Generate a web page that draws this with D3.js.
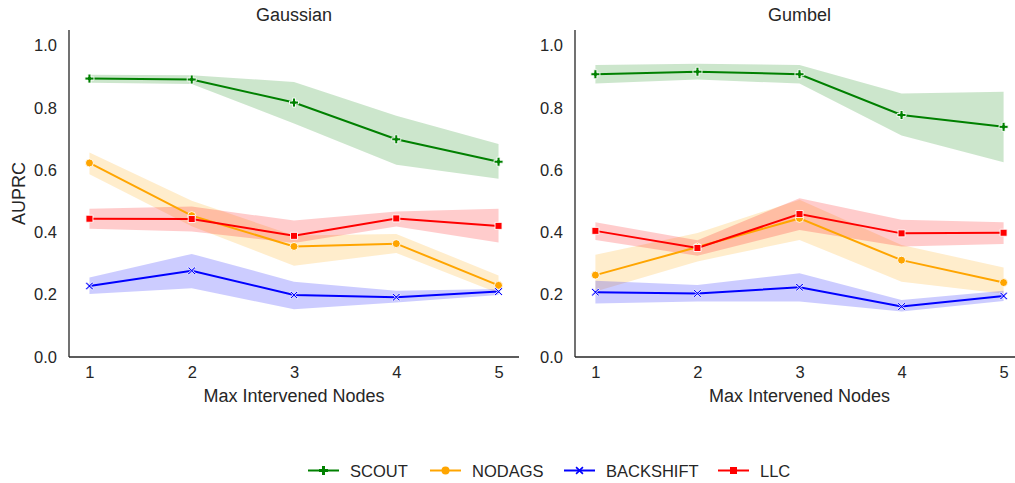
<!DOCTYPE html>
<html>
<head>
<meta charset="utf-8">
<script src="https://cdn.jsdelivr.net/npm/d3@7"></script>
<style>
  html, body { margin: 0; padding: 0; background: #fff; }
  svg { display: block; font-family: "Liberation Sans", Arial, sans-serif; }
</style>
</head>
<body>
<svg id="chart" width="1015" height="483"></svg>
<script>
// Number of intervened nodes on the x axis
const xValues = [1, 2, 3, 4, 5];
const xTicks = [1, 2, 3, 4, 5];
const yTicks = [0.0, 0.2, 0.4, 0.6, 0.8, 1.0];
const methods = ["SCOUT", "NODAGS", "BACKSHIFT", "LLC"];
const panels = ["Gaussian", "Gumbel"];

// Gaussian noise: mean AUPRC and confidence band
const gaussScoutMean = [0.894, 0.891, 0.817, 0.699, 0.627];
const gaussScoutLo   = [0.881, 0.877, 0.750, 0.617, 0.572];
const gaussScoutHi   = [0.906, 0.905, 0.883, 0.775, 0.684];
const gaussNodagsMean = [0.623, 0.454, 0.355, 0.364, 0.230];
const gaussNodagsLo   = [0.587, 0.420, 0.293, 0.334, 0.205];
const gaussNodagsHi   = [0.657, 0.502, 0.390, 0.395, 0.262];
const gaussBackMean = [0.228, 0.277, 0.199, 0.192, 0.210];
const gaussBackLo   = [0.202, 0.221, 0.153, 0.175, 0.199];
const gaussBackHi   = [0.255, 0.331, 0.242, 0.213, 0.218];
const gaussLlcMean = [0.444, 0.443, 0.389, 0.445, 0.421];
const gaussLlcLo   = [0.412, 0.403, 0.366, 0.419, 0.368];
const gaussLlcHi   = [0.476, 0.483, 0.438, 0.467, 0.476];

// Gumbel noise: mean AUPRC and confidence band
const gumbScoutMean = [0.908, 0.916, 0.908, 0.777, 0.739];
const gumbScoutLo   = [0.878, 0.891, 0.878, 0.711, 0.625];
const gumbScoutHi   = [0.938, 0.942, 0.938, 0.846, 0.852];
const gumbNodagsMean = [0.263, 0.353, 0.445, 0.311, 0.239];
const gumbNodagsLo   = [0.210, 0.307, 0.376, 0.242, 0.203];
const gumbNodagsHi   = [0.328, 0.398, 0.505, 0.360, 0.287];
const gumbBackMean = [0.208, 0.204, 0.224, 0.162, 0.196];
const gumbBackLo   = [0.172, 0.178, 0.178, 0.146, 0.180];
const gumbBackHi   = [0.245, 0.231, 0.269, 0.183, 0.213];
const gumbLlcMean = [0.405, 0.350, 0.459, 0.397, 0.399];
const gumbLlcLo   = [0.376, 0.325, 0.408, 0.355, 0.363];
const gumbLlcHi   = [0.433, 0.375, 0.510, 0.441, 0.433];

const panelSeries = {
  Gaussian: [
    { mean: gaussScoutMean, lo: gaussScoutLo, hi: gaussScoutHi },
    { mean: gaussNodagsMean, lo: gaussNodagsLo, hi: gaussNodagsHi },
    { mean: gaussBackMean, lo: gaussBackLo, hi: gaussBackHi },
    { mean: gaussLlcMean, lo: gaussLlcLo, hi: gaussLlcHi }
  ],
  Gumbel: [
    { mean: gumbScoutMean, lo: gumbScoutLo, hi: gumbScoutHi },
    { mean: gumbNodagsMean, lo: gumbNodagsLo, hi: gumbNodagsHi },
    { mean: gumbBackMean, lo: gumbBackLo, hi: gumbBackHi },
    { mean: gumbLlcMean, lo: gumbLlcLo, hi: gumbLlcHi }
  ]
};

const colors = { SCOUT: "#008000", NODAGS: "#ffa500", BACKSHIFT: "#0000ff", LLC: "#ff0000" };
const ink = "#262626";
const tickFont = "16.5px";
const labelFont = "18px";

// Marker path generators centred on the origin
function plusPath(s) {
  const a = s / 2, b = s / 6;
  return `M${-b},${-a}H${b}V${-b}H${a}V${b}H${b}V${a}H${-b}V${b}H${-a}V${-b}H${-b}Z`;
}
function xPath(s) {
  const a = s / 2, t = s / 7;
  // thick diagonal cross
  const pts = [
    [0, -t], [a - t, -a], [a, -a + t], [t, 0], [a, a - t], [a - t, a],
    [0, t], [-a + t, a], [-a, a - t], [-t, 0], [-a, -a + t], [-a + t, -a]
  ];
  return "M" + pts.map(p => p.join(",")).join("L") + "Z";
}
function circlePath(s) {
  const r = s / 2;
  return `M${r},0A${r},${r} 0 1,1 ${-r},0A${r},${r} 0 1,1 ${r},0Z`;
}
function squarePath(s) {
  const a = s / 2;
  return `M${-a},${-a}H${a}V${a}H${-a}Z`;
}
const markers = {
  SCOUT: () => plusPath(9),
  NODAGS: () => circlePath(8),
  BACKSHIFT: () => xPath(8),
  LLC: () => squarePath(7)
};

const svg = d3.select("#chart");
const plotTop = 30, plotBottom = 357;
const panelX = { Gaussian: [69, 519], Gumbel: [575, 1024] };

const y = d3.scaleLinear().domain([0, 1.05]).range([plotBottom, plotTop]);

panels.forEach((panel, pi) => {
  const x = d3.scaleLinear().domain([0.8, 5.2]).range(panelX[panel]);
  const g = svg.append("g");

  // Confidence bands first so that every line sits above them
  panelSeries[panel].forEach((s, i) => {
    const name = methods[i];
    const area = d3.area()
      .x((d, j) => x(xValues[j]))
      .y0((d, j) => y(s.lo[j]))
      .y1((d, j) => y(s.hi[j]));
    g.append("path")
      .attr("d", area(xValues))
      .attr("fill", colors[name])
      .attr("fill-opacity", 0.2)
      .attr("stroke", "none");
  });

  panelSeries[panel].forEach((s, i) => {
    const name = methods[i];
    const line = d3.line().x((d, j) => x(xValues[j])).y((d, j) => y(s.mean[j]));
    g.append("path")
      .attr("d", line(xValues))
      .attr("fill", "none")
      .attr("stroke", colors[name])
      .attr("stroke-width", 2);
    g.selectAll(null).data(s.mean).enter().append("path")
      .attr("transform", (d, j) => `translate(${x(xValues[j])},${y(d)})`)
      .attr("d", markers[name]())
      .attr("fill", colors[name])
      .attr("stroke", "#fff")
      .attr("stroke-width", 0.9);
  });

  // Axes: left and bottom spines only, no tick marks
  const xAxis = d3.axisBottom(x).tickValues(xTicks).tickFormat(d3.format("d")).tickSize(0).tickPadding(9);
  const gx = g.append("g").attr("transform", `translate(0,${plotBottom})`).call(xAxis);
  gx.attr("font-family", null).attr("font-size", null);
  gx.select(".domain").attr("stroke", ink).attr("stroke-width", 1.3)
    .attr("d", `M${panelX[panel][0]},0H${panelX[panel][1]}`);
  gx.selectAll("text").attr("fill", ink).style("font-size", tickFont);

  const yAxis = d3.axisLeft(y).tickValues(yTicks).tickFormat(d3.format(".1f")).tickSize(0).tickPadding(12);
  const gy = g.append("g").attr("transform", `translate(${panelX[panel][0]},0)`).call(yAxis);
  gy.attr("font-family", null).attr("font-size", null);
  gy.select(".domain").attr("stroke", ink).attr("stroke-width", 1.3)
    .attr("d", `M0,${plotTop}V${plotBottom}`);
  gy.selectAll("text").attr("fill", ink).style("font-size", tickFont);

  const cx = (x(1) + x(5)) / 2;
  g.append("text").attr("x", cx).attr("y", 21).attr("text-anchor", "middle")
    .attr("fill", ink).style("font-size", labelFont).text(panel);
  g.append("text").attr("x", cx).attr("y", 402).attr("text-anchor", "middle")
    .attr("fill", ink).style("font-size", labelFont).text("Max Intervened Nodes");
  if (pi === 0) {
    g.append("text").attr("transform", `translate(25,${(plotTop + plotBottom) / 2}) rotate(-90)`)
      .attr("text-anchor", "middle").attr("fill", ink).style("font-size", labelFont).text("AUPRC");
  }
});

// Legend along the bottom
const legendX = [308, 430, 564, 718];
const legendY = 470.5;
methods.forEach((name, i) => {
  const lg = svg.append("g").attr("transform", `translate(${legendX[i]},${legendY})`);
  lg.append("line").attr("x1", 0).attr("x2", 31).attr("y1", 0).attr("y2", 0)
    .attr("stroke", colors[name]).attr("stroke-width", 2);
  lg.append("path").attr("transform", "translate(15.5,0)").attr("d", markers[name]())
    .attr("fill", colors[name]);
  lg.append("text").attr("x", 42).attr("y", 6).attr("fill", ink)
    .style("font-size", tickFont).text(name);
});
</script>
</body>
</html>
